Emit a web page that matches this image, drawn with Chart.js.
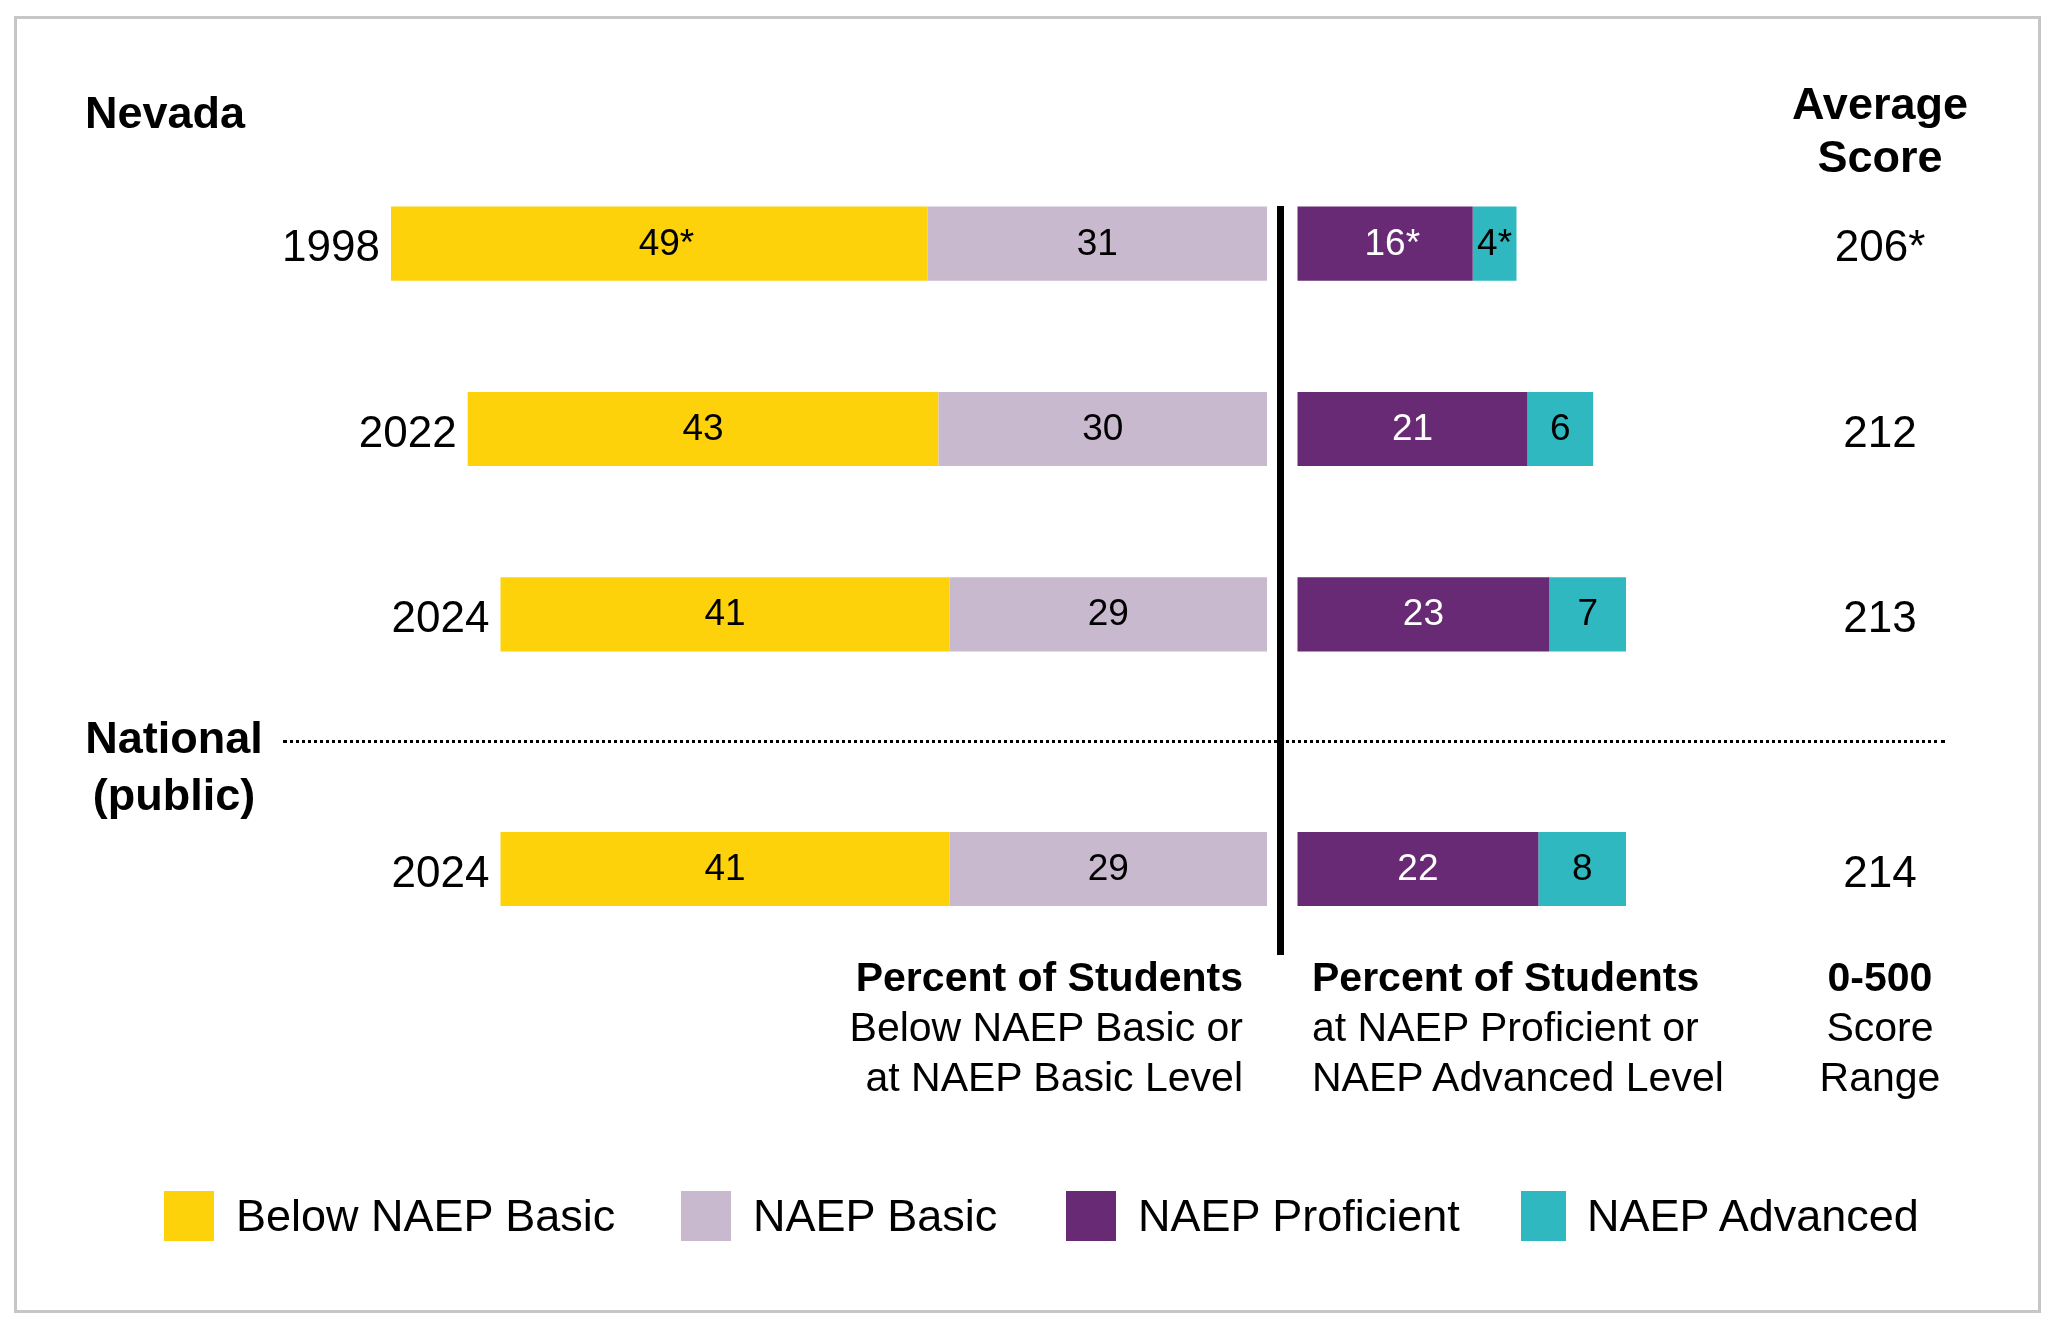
<!DOCTYPE html>
<html>
<head>
<meta charset="utf-8">
<title>Nevada NAEP achievement levels</title>
<script src="https://cdn.jsdelivr.net/npm/chart.js@4.4.1/dist/chart.umd.min.js"></script>
<style>
  html, body { margin: 0; padding: 0; background: #fff; }
  #page {
    position: relative;
    width: 2064px;
    height: 1329px;
    overflow: hidden;
    font-family: "Liberation Sans", Arial, Helvetica, sans-serif;
    color: #000;
  }
  #page canvas { position: absolute; left: 0; top: 0; }
  .frame {
    position: absolute; left: 14px; top: 16px;
    width: 2027px; height: 1297px;
    box-sizing: border-box;
    border: 3px solid #c6c6c6;
  }
  .txt { position: absolute; white-space: nowrap; }
  .bold { font-weight: bold; }
  .divider {
    position: absolute; left: 1277px; top: 206px;
    width: 7px; height: 749px; background: #000;
  }
  .dotted {
    position: absolute; left: 283px; top: 740px;
    width: 1662px; height: 0;
    border-top: 3px dotted #000;
  }
  #legend .box { position: absolute; top: 1191px; width: 50px; height: 50px; }
  #legend .lab { position: absolute; top: 1191px; font-size: 45px; line-height: 50px; white-space: nowrap; }
</style>
</head>
<body>
<div id="page">
  <div class="frame"></div>
  <canvas id="nevadaChart" width="2064" height="1329"></canvas>
  <canvas id="nationalChart" width="2064" height="1329"></canvas>

  <div class="divider"></div>
  <div class="dotted"></div>

  <div class="txt bold" style="left:85px; top:88px; font-size:45px; line-height:50px;">Nevada</div>
  <div class="txt bold" style="left:84px; top:709px; width:180px; text-align:center; font-size:45px; line-height:57px;">National<br>(public)</div>
  <div class="txt bold" style="left:1730px; top:77px; width:300px; text-align:center; font-size:45px; line-height:53px;">Average<br>Score</div>

  <div class="txt" style="right:821px; top:952px; text-align:right; font-size:41px; line-height:50px;"><span class="bold">Percent of Students</span><br>Below NAEP Basic or<br>at NAEP Basic Level</div>
  <div class="txt" style="left:1312px; top:952px; font-size:41px; line-height:50px;"><span class="bold">Percent of Students</span><br>at NAEP Proficient or<br>NAEP Advanced Level</div>
  <div class="txt" style="left:1730px; top:952px; width:300px; text-align:center; font-size:41px; line-height:50px;"><span class="bold">0-500</span><br>Score<br>Range</div>

  <div id="legend"></div>
</div>

<script>
// ---- data ----
const seriesNames = ['Below NAEP Basic', 'NAEP Basic', 'NAEP Proficient', 'NAEP Advanced'];
const seriesColors = ['#fed20b', '#c8b9cf', '#682a75', '#2fb8bf'];
const labelColors = ['#000', '#000', '#fff', '#000'];

const nevadaYears = ['1998', '2022', '2024'];
const nevadaBelowBasic = [49, 43, 41];
const nevadaBasic = [31, 30, 29];
const nevadaProficient = [16, 21, 23];
const nevadaAdvanced = [4, 6, 7];
const nevadaScores = [206, 212, 213];
// * = significantly different from 2024
const nevadaBelowBasicSig = [true, false, false];
const nevadaBasicSig = [false, false, false];
const nevadaProficientSig = [true, false, false];
const nevadaAdvancedSig = [true, false, false];
const nevadaScoreSig = [true, false, false];

const nationalYears = ['2024'];
const nationalBelowBasic = [41];
const nationalBasic = [29];
const nationalProficient = [22];
const nationalAdvanced = [8];
const nationalScores = [214];
const nationalSig = [false];

// ---- layout ----
const FONT = '"Liberation Sans", Arial, Helvetica, sans-serif';
const PX_PER_PCT = 10.95;
const LEFT_ZERO = 1267;     // where the left stack starts (grows leftwards)
const RIGHT_ZERO = 1297.5;  // where the right stack starts
const AREA_LEFT = 300;
const AREA_RIGHT = 1960;
const SCORE_X = 1880;
const CANVAS_W = 2064;
const CANVAS_H = 1329;
// stacking order: NAEP Basic sits next to the divider, Below Basic outside it
const STACK_ORDER = [1, 0, 2, 3];

function makeLabelPlugin(years, belowBasic, basic, scores, scoreSig) {
    return {
        id: 'naepLabels',
        afterDatasetsDraw(chart) {
            const ctx = chart.ctx;
            const xl = chart.scales.xl;
            ctx.save();
            ctx.textBaseline = 'alphabetic';

            // percentages inside the segments
            ctx.font = '37px ' + FONT;
            chart.data.datasets.forEach((ds, di) => {
                chart.getDatasetMeta(di).data.forEach((bar, i) => {
                    const num = String(ds.data[i]);
                    const star = ds.sig[i] ? '*' : '';
                    const cx = (bar.x + bar.base) / 2;
                    const w = Math.abs(bar.x - bar.base);
                    const y = bar.y - 2 + 13;
                    ctx.fillStyle = ds.labelColor;
                    if (star && w > 60) {
                        ctx.textAlign = 'center';
                        ctx.fillText(num, cx, y);
                        ctx.textAlign = 'left';
                        ctx.fillText(star, cx + ctx.measureText(num).width / 2, y);
                    } else {
                        ctx.textAlign = 'center';
                        ctx.fillText(num + star, cx, y);
                    }
                });
            });

            // years at the outer end of the left stack, scores on the right
            ctx.font = '44px ' + FONT;
            ctx.fillStyle = '#000';
            const bars = chart.getDatasetMeta(0).data;
            years.forEach((yr, i) => {
                const y = bars[i].y + 1.5 + 16;
                const total = belowBasic[i] + basic[i];
                ctx.textAlign = 'right';
                ctx.fillText(yr, xl.getPixelForValue(total) - 11, y);
                ctx.textAlign = 'center';
                ctx.fillText(scores[i] + (scoreSig[i] ? '*' : ''), SCORE_X, y);
            });
            ctx.restore();
        }
    };
}

function makeChart(id, years, series, sigs, scores, scoreSig, areaTop, areaBottom) {
    const datasets = STACK_ORDER.map((k) => ({
        label: seriesNames[k],
        data: series[k],
        backgroundColor: seriesColors[k],
        borderWidth: 0,
        xAxisID: k < 2 ? 'xl' : 'xr',
        stack: 'row',
        sig: sigs[k],
        labelColor: labelColors[k],
        barPercentage: 0.4,
        categoryPercentage: 1.0
    }));

    return new Chart(document.getElementById(id), {
        type: 'bar',
        data: { labels: years, datasets },
        options: {
            indexAxis: 'y',
            responsive: false,
            animation: false,
            devicePixelRatio: 1,
            layout: {
                padding: {
                    left: AREA_LEFT,
                    right: CANVAS_W - AREA_RIGHT,
                    top: areaTop,
                    bottom: CANVAS_H - areaBottom
                }
            },
            plugins: {
                legend: { display: false },
                tooltip: { enabled: false }
            },
            scales: {
                y: { type: 'category', display: false, stacked: true },
                xl: {
                    type: 'linear', axis: 'x', display: false, stacked: true, reverse: true,
                    min: -(AREA_RIGHT - LEFT_ZERO) / PX_PER_PCT,
                    max: (LEFT_ZERO - AREA_LEFT) / PX_PER_PCT
                },
                xr: {
                    type: 'linear', axis: 'x', display: false, stacked: true,
                    min: -(RIGHT_ZERO - AREA_LEFT) / PX_PER_PCT,
                    max: (AREA_RIGHT - RIGHT_ZERO) / PX_PER_PCT
                }
            }
        },
        plugins: [makeLabelPlugin(years, series[0], series[1], scores, scoreSig)]
    });
}

makeChart('nevadaChart', nevadaYears,
    [nevadaBelowBasic, nevadaBasic, nevadaProficient, nevadaAdvanced],
    [nevadaBelowBasicSig, nevadaBasicSig, nevadaProficientSig, nevadaAdvancedSig],
    nevadaScores, nevadaScoreSig, 151, 707);

makeChart('nationalChart', nationalYears,
    [nationalBelowBasic, nationalBasic, nationalProficient, nationalAdvanced],
    [nationalSig, nationalSig, nationalSig, nationalSig],
    nationalScores, nationalSig, 776.5, 961.5);

// legend built from the series names/colours
const legendLefts = [164, 681, 1066, 1521];
const legend = document.getElementById('legend');
seriesNames.forEach((name, k) => {
    const box = document.createElement('div');
    box.className = 'box';
    box.style.left = legendLefts[k] + 'px';
    box.style.background = seriesColors[k];
    if (k === 3) box.style.width = '45px';
    legend.appendChild(box);
    const lab = document.createElement('div');
    lab.className = 'lab';
    lab.style.left = (legendLefts[k] + (k === 3 ? 66 : 72)) + 'px';
    lab.textContent = name;
    legend.appendChild(lab);
});
</script>
</body>
</html>
